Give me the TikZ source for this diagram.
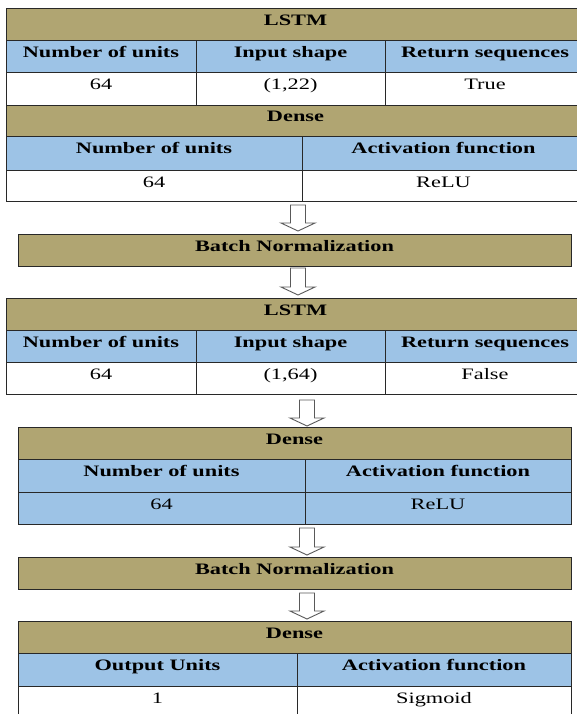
\documentclass[tikz,border=0pt]{standalone}
\usepackage{fontspec}
\setmainfont{Liberation Serif}[FakeStretch=1.4]
\definecolor{tan}{RGB}{176,165,114}
\definecolor{sky}{RGB}{157,195,230}
\definecolor{linec}{RGB}{40,40,40}
\tikzset{
  grid/.style={draw=linec,line width=0.9bp},
  hdr/.style={font=\fontsize{16}{19}\selectfont\bfseries,anchor=base,inner sep=0pt},
  val/.style={font=\fontsize{16}{19}\selectfont,anchor=base,inner sep=0pt},
  blockarrow/.style={draw=black!65,fill=white,line width=0.9bp,line join=miter}
}
% cell: x1 y1 x2 y2 fill name style text
\newcommand\tcell[8]{%
  \fill[#5] (#1,#2) rectangle (#3,#4);
  \draw[grid] (#1,#2) rectangle (#3,#4);
  \node[#7] (#6) at ({(#1+#3)/2},{#2+17}) {#8};}
% arrow: name x ytop ytip
\newcommand\barrow[4]{%
  \draw[blockarrow] (#2-7.5,#3) -- (#2+7.5,#3) -- (#2+7.5,#4-8) -- (#2+17,#4-8)
    -- (#2,#4) -- (#2-17,#4-8) -- (#2-7.5,#4-8) -- cycle;
  \coordinate (#1) at (#2,#4);}
\begin{document}
\begin{tikzpicture}[x=1bp,y=-1bp]
\useasboundingbox (0,0) rectangle (577,714);
\clip (0,0) rectangle (577,714);
\fill[white] (0,0) rectangle (577,714);
% ---- LSTM 1
\tcell{6}{8.3}{585}{40.7}{tan}{l1h}{hdr}{LSTM}
\tcell{6}{40.7}{196}{72.7}{sky}{l1a}{hdr}{Number of units}
\tcell{196}{40.7}{385}{72.7}{sky}{l1b}{hdr}{Input shape}
\tcell{385}{40.7}{585}{72.7}{sky}{l1c}{hdr}{Return sequences}
\tcell{6}{72.7}{196}{105}{white}{l1d}{val}{64}
\tcell{196}{72.7}{385}{105}{white}{l1e}{val}{(1,22)}
\tcell{385}{72.7}{585}{105}{white}{l1f}{val}{True}
% ---- Dense 1
\tcell{6}{105}{585}{136.7}{tan}{d1h}{hdr}{Dense}
\tcell{6}{136.7}{302}{170.7}{sky}{d1a}{hdr}{Number of units}
\tcell{302}{136.7}{585}{170.7}{sky}{d1b}{hdr}{Activation function}
\tcell{6}{170.7}{302}{201.7}{white}{d1c}{val}{64}
\tcell{302}{170.7}{585}{201.7}{white}{d1d}{val}{ReLU}
\barrow{a1}{298}{205}{231}
% ---- BN 1
\tcell{18}{234}{571}{266}{tan}{bn1}{hdr}{Batch Normalization}
\barrow{a2}{298}{268}{295}
% ---- LSTM 2
\tcell{6}{298.3}{585}{330}{tan}{l2h}{hdr}{LSTM}
\tcell{6}{330}{196}{362.3}{sky}{l2a}{hdr}{Number of units}
\tcell{196}{330}{385}{362.3}{sky}{l2b}{hdr}{Input shape}
\tcell{385}{330}{585}{362.3}{sky}{l2c}{hdr}{Return sequences}
\tcell{6}{362.3}{196}{394}{white}{l2d}{val}{64}
\tcell{196}{362.3}{385}{394}{white}{l2e}{val}{(1,64)}
\tcell{385}{362.3}{585}{394}{white}{l2f}{val}{False}
\barrow{a3}{307}{400}{426}
% ---- Dense 2
\tcell{18}{427.3}{571}{459.3}{tan}{d2h}{hdr}{Dense}
\tcell{18}{459.3}{305}{492.3}{sky}{d2a}{hdr}{Number of units}
\tcell{305}{459.3}{571}{492.3}{sky}{d2b}{hdr}{Activation function}
\tcell{18}{492.3}{305}{524}{sky}{d2c}{val}{64}
\tcell{305}{492.3}{571}{524}{sky}{d2d}{val}{ReLU}
\barrow{a4}{307}{528}{555}
% ---- BN 2
\tcell{18}{557.3}{571}{589}{tan}{bn2}{hdr}{Batch Normalization}
\barrow{a5}{307}{593}{619}
% ---- Dense 3
\tcell{18}{621}{571}{653.3}{tan}{d3h}{hdr}{Dense}
\tcell{18}{653.3}{297}{686}{sky}{d3a}{hdr}{Output Units}
\tcell{297}{653.3}{571}{686}{sky}{d3b}{hdr}{Activation function}
\tcell{18}{686}{297}{720}{white}{d3c}{val}{1}
\tcell{297}{686}{571}{720}{white}{d3d}{val}{Sigmoid}
\end{tikzpicture}
\end{document}
